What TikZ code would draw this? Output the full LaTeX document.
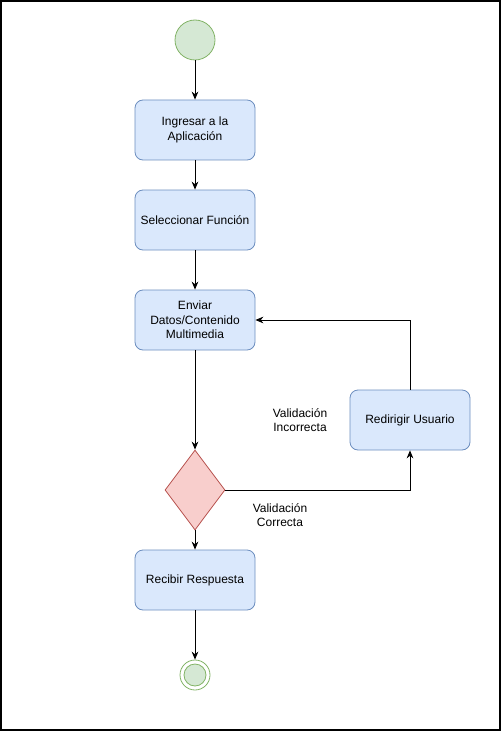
\documentclass[tikz,border=0pt]{standalone}
\usepackage{fontspec}
\setmainfont{Liberation Sans}
\usetikzlibrary{shapes.geometric, arrows.meta}
\definecolor{actfill}{HTML}{DAE8FC}
\definecolor{actline}{HTML}{6C8EBF}
\definecolor{startfill}{HTML}{D5E8D4}
\definecolor{startline}{HTML}{82B366}
\definecolor{decfill}{HTML}{F8CECC}
\definecolor{decline}{HTML}{B85450}

\begin{document}
\begin{tikzpicture}[x=0.75pt,y=-0.75pt,font=\fontsize{9}{11}\selectfont,
  act/.style={draw=actline,fill=actfill,rounded corners=6pt,minimum width=90pt,minimum height=45pt,align=center,inner sep=2pt,line width=0.6pt},
  initial/.style={draw=startline,fill=startfill,shape=circle,minimum size=30pt,inner sep=0pt,line width=0.6pt},
  decision/.style={draw=decline,fill=decfill,shape=diamond,minimum width=45pt,minimum height=60pt,inner sep=0pt,aspect=0.75,line width=0.6pt},
  note/.style={align=center,inner sep=0pt},
  flow/.style={-{Stealth[length=6pt,width=5pt]},line width=0.75pt}]
  \useasboundingbox (0,0) rectangle (501,731);
  \draw[line width=1.5pt] (1,1) rectangle (500,730);
  \path (195,40) node[initial] (ini) {}
  (195,130) node[act] (a1) {Ingresar a la\\Aplicación}
  (195,220) node[act] (a2) {Seleccionar Función}
  (195,320) node[act] (a3) {Enviar\\Datos/Contenido\\Multimedia}
  (195,490) node[decision,minimum width=45pt,minimum height=60pt] (d1) {}
  (410,420) node[act] (a4) {Redirigir Usuario}
  (195,580) node[act] (a5) {Recibir Respuesta};
  \node[draw=startline,circle,minimum size=22.5pt,inner sep=0pt,line width=0.6pt] (fin) at (195,675) {};
  \node[draw=startline,fill=startfill,circle,minimum size=16.5pt,inner sep=0pt,line width=0.6pt] at (fin) {};
  \path (300,420) node[note] (l1) {Validación\\Incorrecta}
  (280,515) node[note] (l2) {Validación\\Correcta};
  \draw[flow] (ini) -- (a1);
  \draw[flow] (a1) -- (a2);
  \draw[flow] (a2) -- (a3);
  \draw[flow] (a3) -- (d1);
  \draw[flow] (d1.east) -| (a4.south);
  \draw[flow] (a4.north) |- (a3.east);
  \draw[flow] (d1) -- (a5);
  \draw[flow] (a5) -- (fin);
\end{tikzpicture}
\end{document}
